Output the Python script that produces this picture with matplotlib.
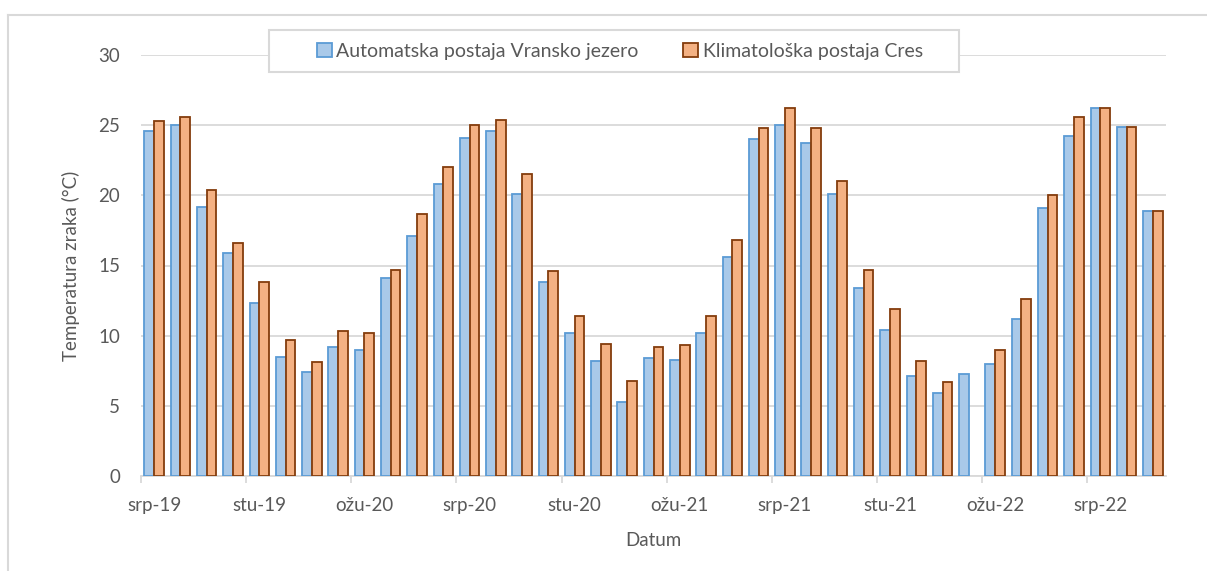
import matplotlib.pyplot as plt
from matplotlib.patches import Rectangle
import numpy as np

plt.rcParams['font.family'] = ['Lato', 'DejaVu Sans']

# mjeseci od srp-19 do ruj-22
months = ['srp-19', 'kol-19', 'ruj-19', 'lis-19', 'stu-19', 'pro-19',
          'sij-20', 'velj-20', 'ožu-20', 'tra-20', 'svi-20', 'lip-20',
          'srp-20', 'kol-20', 'ruj-20', 'lis-20', 'stu-20', 'pro-20',
          'sij-21', 'velj-21', 'ožu-21', 'tra-21', 'svi-21', 'lip-21',
          'srp-21', 'kol-21', 'ruj-21', 'lis-21', 'stu-21', 'pro-21',
          'sij-22', 'velj-22', 'ožu-22', 'tra-22', 'svi-22', 'lip-22',
          'srp-22', 'kol-22', 'ruj-22']

vransko = [24.6, 25.0, 19.2, 15.9, 12.3, 8.5, 7.4, 9.2, 9.0, 14.1, 17.1, 20.8,
           24.1, 24.6, 20.1, 13.8, 10.2, 8.2, 5.3, 8.4, 8.3, 10.2, 15.6, 24.0,
           25.0, 23.7, 20.1, 13.4, 10.4, 7.1, 5.9, 7.3, 8.0, 11.2, 19.1, 24.2,
           26.2, 24.9, 18.9]

cres = [25.3, 25.6, 20.4, 16.6, 13.8, 9.7, 8.1, 10.3, 10.2, 14.7, 18.7, 22.0,
        25.0, 25.4, 21.5, 14.6, 11.4, 9.4, 6.8, 9.2, 9.3, 11.4, 16.8, 24.8,
        26.2, 24.8, 21.0, 14.7, 11.9, 8.2, 6.7, np.nan, 9.0, 12.6, 20.0, 25.6,
        26.2, 24.9, 18.9]

label_a = 'Automatska postaja Vransko jezero'
label_b = 'Klimatološka postaja Cres'

W, H = 1207, 571
fig = plt.figure(figsize=(W/100, H/100), dpi=100)
ax = fig.add_axes([141/W, 1-476/H, (1166-141)/W, (476-55)/H])

x = np.arange(len(months))
w = 0.37
ax.bar(x - w/2, vransko, w, color='#A9C9E9', edgecolor='#5B9BD5',
       linewidth=1.3, label=label_a, zorder=3)
ax.bar(x + w/2, cres, w, color='#F4B183', edgecolor='#843C0C',
       linewidth=1.3, label=label_b, zorder=3)

ax.set_xlim(-0.5, len(months) - 0.5)
ax.set_ylim(0, 30)
ax.set_yticks(range(0, 31, 5))
ax.yaxis.grid(True, color='#D9D9D9', linewidth=1.3, zorder=0)
ax.set_axisbelow(True)

ax.set_xticks(x[::4])
ax.set_xticklabels(months[::4])
ax.set_xticks(np.arange(-0.5, len(months), 4), minor=True)
ax.tick_params(axis='x', which='major', length=0, pad=15)
ax.tick_params(axis='x', which='minor', length=5, color='#D9D9D9', width=1.3)
ax.tick_params(axis='y', length=0, pad=15)
ax.tick_params(labelsize=13.5, labelcolor='#595959')

for s in ['top', 'right', 'left']:
    ax.spines[s].set_visible(False)
ax.spines['bottom'].set_color('#D9D9D9')
ax.spines['bottom'].set_linewidth(1.3)

ax.set_xlabel('Datum', fontsize=13.5, color='#595959', labelpad=13)
ax.set_ylabel('Temperatura zraka (°C)', fontsize=13.5, color='#595959', labelpad=13)

# okvir legende
fig.add_artist(Rectangle((269/W, 1-72/H), (959-269)/W, 42/H, transform=fig.transFigure,
                         facecolor='white', edgecolor='#D9D9D9', linewidth=1.5, zorder=4))
leg = fig.legend(loc='center', bbox_to_anchor=(620/W, 1-51/H), ncol=2,
                 fontsize=14, frameon=False, columnspacing=2.3, handlelength=0.75,
                 handleheight=0.75, handletextpad=0.25, borderpad=0.2,
                 labelcolor='#595959')
leg.set_zorder(5)

# rub okvira grafikona (gore i lijevo)
fig.add_artist(plt.Line2D([8/W, 1], [1-15/H, 1-15/H], color='#D9D9D9', linewidth=1.5))
fig.add_artist(plt.Line2D([8/W, 8/W], [0, 1-15/H], color='#D9D9D9', linewidth=1.5))

fig.savefig('out.png', dpi=100)
